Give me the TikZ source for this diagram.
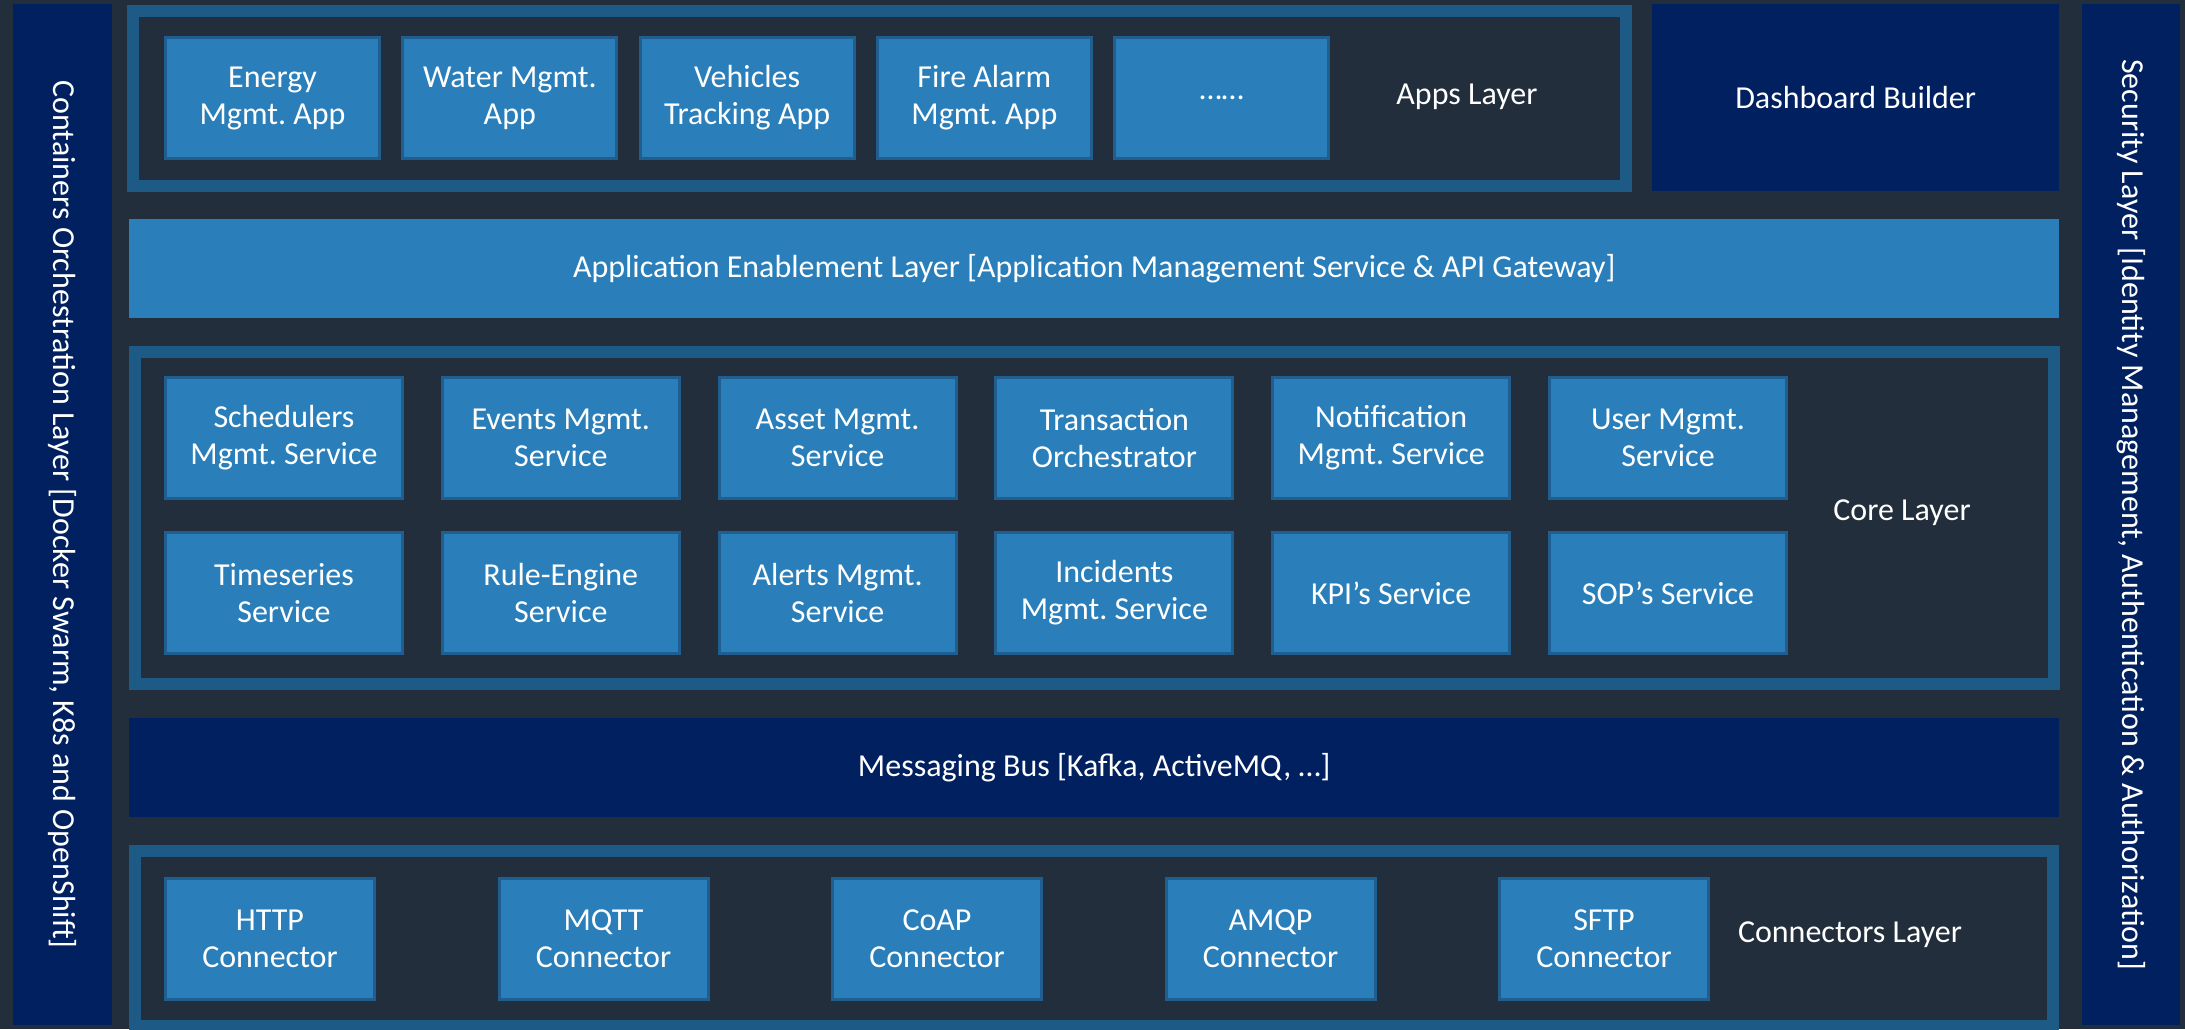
\documentclass[tikz,border=0pt]{standalone}
\usepackage{fontspec}
\setmainfont{Carlito}
\frenchspacing
\definecolor{bgc}{RGB}{34,46,59}
\definecolor{navy}{RGB}{0,32,96}
\definecolor{frm}{RGB}{29,91,134}
\definecolor{boxc}{RGB}{42,127,186}
\definecolor{boxb}{RGB}{31,94,142}
\begin{document}
\begin{tikzpicture}[x=1pt,y=-1pt,
  every node/.style={text=white,font=\fontsize{32}{37}\selectfont,inner sep=0pt,align=center},
  bar/.style={fill=navy,draw=none,anchor=north west},
  frame/.style={draw=frm,line width=12pt,fill=bgc,anchor=north west},
  band/.style={fill=boxc,draw=none,anchor=north west},
  svc/.style={fill=boxc,draw=boxb,line width=3pt,anchor=north west,minimum height=121pt}]
\fill[bgc] (0,0) rectangle (2185,1029);
\useasboundingbox (0,0) rectangle (2185,1029);
% side bars
\node[bar,minimum width=99pt,minimum height=1021pt] (cont) at (13,4) {};
\node[rotate=-90] (contt) at (cont.center) {Containers Orchestration Layer [Docker Swarm, K8s and OpenShift]};
\node[bar,minimum width=98pt,minimum height=1021pt] (sec) at (2082,4) {};
\node[rotate=-90] (sect) at (sec.center) {Security Layer [Identity Management, Authentication \& Authorization]};
% apps layer
\node[frame,minimum width=1493pt,minimum height=175pt] (apps) at (127,5) {};
\node[svc,minimum width=214pt] (a1) at (164,36) {Energy\\Mgmt. App};
\node[svc,minimum width=214pt] (a2) at (401.3,36) {Water Mgmt.\\App};
\node[svc,minimum width=214pt] (a3) at (638.6,36) {Vehicles\\Tracking App};
\node[svc,minimum width=214pt] (a4) at (875.9,36) {Fire Alarm\\Mgmt. App};
\node[svc,minimum width=214pt] (a5) at (1113.2,36) {\ldots\ldots};
\node (appsl) at (1467,97) {Apps Layer};
% dashboard
\node[bar,minimum width=407pt,minimum height=187pt] (dash) at (1652,4) {Dashboard Builder};
% application enablement
\node[band,minimum width=1930pt,minimum height=99pt] (enab) at (129,219) {Application Enablement Layer [Application Management Service \& API Gateway]};
% core layer
\node[frame,minimum width=1919pt,minimum height=332pt] (core) at (129,346) {};
\node[svc,minimum width=237pt] (c1) at (164,376) {Schedulers\\Mgmt. Service};
\node[svc,minimum width=237pt] (c2) at (440.8,376) {Events Mgmt.\\Service};
\node[svc,minimum width=237pt] (c3) at (717.6,376) {Asset Mgmt.\\Service};
\node[svc,minimum width=237pt] (c4) at (994.4,376) {Transaction\\Orchestrator};
\node[svc,minimum width=237pt] (c5) at (1271.2,376) {Notification\\Mgmt. Service};
\node[svc,minimum width=237pt] (c6) at (1548,376) {User Mgmt.\\Service};
\node[svc,minimum width=237pt] (d1) at (164,531) {Timeseries\\Service};
\node[svc,minimum width=237pt] (d2) at (440.8,531) {Rule-Engine\\Service};
\node[svc,minimum width=237pt] (d3) at (717.6,531) {Alerts Mgmt.\\Service};
\node[svc,minimum width=237pt] (d4) at (994.4,531) {Incidents\\Mgmt. Service};
\node[svc,minimum width=237pt] (d5) at (1271.2,531) {KPI’s Service};
\node[svc,minimum width=237pt] (d6) at (1548,531) {SOP’s Service};
\node (corel) at (1902,513) {Core Layer};
% messaging bus
\node[bar,minimum width=1930pt,minimum height=99pt] (bus) at (129,718) {Messaging Bus [Kafka, ActiveMQ, …]};
% connectors layer
\node[frame,minimum width=1918pt,minimum height=175pt] (conn) at (129,845) {};
\node[svc,minimum width=209pt] (k1) at (164,877) {HTTP\\Connector};
\node[svc,minimum width=209pt] (k2) at (497.5,877) {MQTT\\Connector};
\node[svc,minimum width=209pt] (k3) at (831,877) {CoAP\\Connector};
\node[svc,minimum width=209pt] (k4) at (1164.5,877) {AMQP\\Connector};
\node[svc,minimum width=209pt] (k5) at (1498,877) {SFTP\\Connector};
\node (connl) at (1850,935) {Connectors Layer};
\end{tikzpicture}
\end{document}
